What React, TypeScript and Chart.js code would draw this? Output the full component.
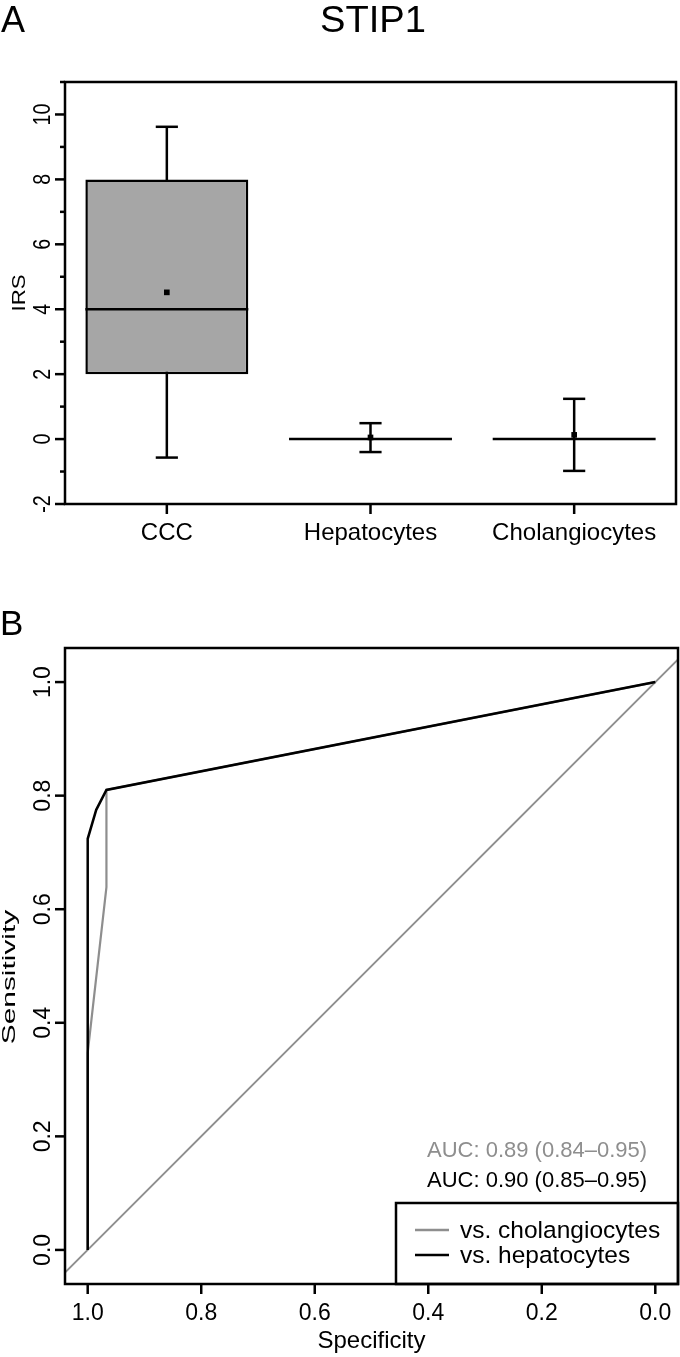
import React, { useEffect, useRef } from 'react';
import { Chart, registerables } from 'chart.js';

Chart.register(...registerables);

// ---------- Panel A data ----------
const categories = ['CCC', 'Hepatocytes', 'Cholangiocytes'];
const boxQ1 = [2, 0, 0];
const boxQ3 = [8, 0, 0];
const medians = [4, 0, 0];
const means = [4.52, 0.05, 0.13];
const errHigh = [9.62, 0.49, 1.24];
const errLow = [-0.57, -0.4, -0.98];
const irsMajorTicks = [-2, 0, 2, 4, 6, 8, 10];
const irsMajorLabels = ['-2', '0', '2', '4', '6', '8', '10'];
const irsMinorTicks = [-1, 1, 3, 5, 7, 9, 11];
const titleA = 'STIP1';
const yLabelA = 'IRS';

// ---------- Panel B data ----------
const diagSpec = [1.04, -0.04];
const diagSens = [-0.04, 1.04];
const cholSpec = [1, 1, 0.967, 0.967, 0];
const cholSens = [0, 0.347, 0.639, 0.81, 1];
const hepSpec = [1, 1, 0.985, 0.967, 0];
const hepSens = [0, 0.724, 0.775, 0.81, 1];
const specTicks = [1, 0.8, 0.6, 0.4, 0.2, 0];
const specLabels = ['1.0', '0.8', '0.6', '0.4', '0.2', '0.0'];
const sensTicks = [0, 0.2, 0.4, 0.6, 0.8, 1];
const sensLabels = ['0.0', '0.2', '0.4', '0.6', '0.8', '1.0'];
const aucChol = 'AUC: 0.89 (0.84\u20130.95)';
const aucHep = 'AUC: 0.90 (0.85\u20130.95)';
const legendLabels = ['vs. cholangiocytes', 'vs. hepatocytes'];

const GRAY = '#8e8e8e';
const BOXFILL = '#a6a6a6';
const FONT = '"Liberation Sans", Arial, Helvetica, sans-serif';
const LW = 2.5;

type TOpts = {
  size: number;
  align?: CanvasTextAlign;
  base?: CanvasTextBaseline;
  rot?: number;
  sx?: number;
  sy?: number;
  color?: string;
};

function txt(ctx: CanvasRenderingContext2D, s: string, x: number, y: number, o: TOpts) {
  ctx.save();
  ctx.translate(x, y);
  if (o.rot) ctx.rotate(o.rot);
  ctx.scale(o.sx ?? 1, o.sy ?? 1);
  ctx.font = `${o.size}px ${FONT}`;
  ctx.fillStyle = o.color ?? '#000';
  ctx.textAlign = o.align ?? 'left';
  ctx.textBaseline = o.base ?? 'alphabetic';
  ctx.fillText(s, 0, 0);
  ctx.restore();
}

function line(ctx: CanvasRenderingContext2D, x1: number, y1: number, x2: number, y2: number) {
  ctx.beginPath();
  ctx.moveTo(x1, y1);
  ctx.lineTo(x2, y2);
  ctx.stroke();
}

const boxPlugin = {
  id: 'boxA',
  beforeDatasetsDraw(chart: any) {
    const ctx = chart.ctx as CanvasRenderingContext2D;
    const y = chart.scales.y;
    const bars = chart.getDatasetMeta(1).data;
    ctx.save();
    ctx.strokeStyle = '#000';
    ctx.lineWidth = LW;
    bars.forEach((b: any, i: number) => {
      const cx = b.x;
      const half = b.width * 0.068;
      const yh = y.getPixelForValue(errHigh[i]);
      const yl = y.getPixelForValue(errLow[i]);
      line(ctx, cx, yh, cx, yl);
      line(ctx, cx - half, yh, cx + half, yh);
      line(ctx, cx - half, yl, cx + half, yl);
    });
    ctx.restore();
  },
  afterDatasetDraw(chart: any, args: any) {
    if (args.index !== 1) return;
    const ctx = chart.ctx as CanvasRenderingContext2D;
    const y = chart.scales.y;
    const bars = chart.getDatasetMeta(1).data;
    ctx.save();
    ctx.strokeStyle = '#000';
    ctx.lineWidth = LW;
    bars.forEach((b: any, i: number) => {
      const ym = y.getPixelForValue(medians[i]);
      line(ctx, b.x - b.width / 2, ym, b.x + b.width / 2, ym);
    });
    ctx.restore();
  },
  afterDraw(chart: any) {
    const ctx = chart.ctx as CanvasRenderingContext2D;
    const { left, right, top, bottom } = chart.chartArea;
    const x = chart.scales.x;
    const y = chart.scales.y;
    ctx.save();
    ctx.strokeStyle = '#000';
    ctx.lineWidth = LW;
    ctx.strokeRect(left, top, right - left, bottom - top);
    irsMajorTicks.forEach((v, i) => {
      const py = y.getPixelForValue(v);
      line(ctx, left - 10, py, left, py);
      txt(ctx, irsMajorLabels[i], 50, py, { size: 24, align: 'center', rot: -Math.PI / 2, sx: 0.82 });
    });
    irsMinorTicks.forEach((v) => {
      const py = y.getPixelForValue(v);
      line(ctx, left - 5, py, left, py);
    });
    categories.forEach((c, i) => {
      const px = x.getPixelForValue(i);
      line(ctx, px, bottom, px, bottom + 10);
      txt(ctx, c, px, 540, { size: 24, align: 'center' });
    });
    txt(ctx, yLabelA, 25, (top + bottom) / 2, { size: 19, align: 'center', rot: -Math.PI / 2, sx: 1.17 });
    txt(ctx, titleA, 373, 32, { size: 36, align: 'center', sx: 1.06 });
    txt(ctx, 'A', 1, 32, { size: 36 });
    ctx.restore();
  },
};

const OFFB = 600;

const rocPlugin = {
  id: 'rocB',
  afterDraw(chart: any) {
    const ctx = chart.ctx as CanvasRenderingContext2D;
    const { left, right, top, bottom } = chart.chartArea;
    const x = chart.scales.x;
    const y = chart.scales.y;
    ctx.save();
    ctx.strokeStyle = '#000';
    ctx.lineWidth = LW;
    // legend box
    const lx = 396, ly = 1203 - OFFB;
    ctx.fillStyle = '#fff';
    ctx.fillRect(lx, ly, right - lx, bottom - ly);
    ctx.strokeRect(lx, ly, right - lx, bottom - ly);
    // plot border
    ctx.strokeRect(left, top, right - left, bottom - top);
    specTicks.forEach((v, i) => {
      const px = x.getPixelForValue(v);
      line(ctx, px, bottom, px, bottom + 10);
      txt(ctx, specLabels[i], px, 1320 - OFFB, { size: 23, align: 'center' });
    });
    sensTicks.forEach((v, i) => {
      const py = y.getPixelForValue(v);
      line(ctx, left - 10, py, left, py);
      txt(ctx, sensLabels[i], 50, py, { size: 23, align: 'center', rot: -Math.PI / 2 });
    });
    txt(ctx, 'Specificity', (left + right) / 2, 1348 - OFFB, { size: 24, align: 'center' });
    txt(ctx, 'Sensitivity', 15, 977 - OFFB, { size: 18, align: 'center', rot: -Math.PI / 2, sx: 1.66 });
    txt(ctx, 'B', 0, 635 - OFFB, { size: 35 });
    txt(ctx, aucChol, 427, 1157 - OFFB, { size: 22, color: GRAY });
    txt(ctx, aucHep, 427, 1187 - OFFB, { size: 22, color: '#000' });
    // legend entries
    const cols = [GRAY, '#000'];
    const lys = [1230, 1255];
    legendLabels.forEach((s, i) => {
      ctx.strokeStyle = cols[i];
      line(ctx, 415, lys[i] - OFFB, 449, lys[i] - OFFB);
      txt(ctx, s, 460, lys[i] + 8 - OFFB, { size: 24.5 });
    });
    ctx.restore();
  },
};

function pts(xs: number[], ys: number[]) {
  return xs.map((v, i) => ({ x: v, y: ys[i] }));
}

export default function App() {
  const refA = useRef<HTMLCanvasElement | null>(null);
  const refB = useRef<HTMLCanvasElement | null>(null);

  useEffect(() => {
    const chartA = new Chart(refA.current as HTMLCanvasElement, {
      type: 'bar',
      data: {
        labels: categories,
        datasets: [
          {
            type: 'line',
            data: means,
            showLine: false,
            pointStyle: 'rect',
            pointRadius: 4,
            pointBackgroundColor: '#000',
            pointBorderWidth: 0,
            borderColor: '#000',
          } as any,
          {
            type: 'bar',
            data: boxQ1.map((q, i) => [q, boxQ3[i]]),
            backgroundColor: BOXFILL,
            borderColor: '#000',
            borderWidth: LW,
            borderSkipped: false,
            barPercentage: 0.8,
            categoryPercentage: 1,
          } as any,
        ],
      },
      options: {
        responsive: false,
        maintainAspectRatio: false,
        animation: false,
        devicePixelRatio: 1,
        layout: { padding: { left: 0, right: 2, top: 82, bottom: 0 } },
        plugins: { legend: { display: false }, tooltip: { enabled: false }, title: { display: false } },
        scales: {
          x: {
            type: 'category',
            offset: true,
            grid: { display: false },
            border: { display: false },
            ticks: { display: false },
            afterFit: (s: any) => { s.height = 96; },
          },
          y: {
            type: 'linear',
            min: -2,
            max: 11,
            grid: { display: false },
            border: { display: false },
            ticks: { display: false },
            afterFit: (s: any) => { s.width = 65; },
          },
        },
      } as any,
      plugins: [boxPlugin],
    });

    const chartB = new Chart(refB.current as HTMLCanvasElement, {
      type: 'scatter',
      data: {
        datasets: [
          {
            data: pts(hepSpec, hepSens),
            showLine: true,
            borderColor: '#000',
            borderWidth: LW,
            pointRadius: 0,
            tension: 0,
          },
          {
            data: pts(cholSpec, cholSens),
            showLine: true,
            borderColor: GRAY,
            borderWidth: 2.2,
            pointRadius: 0,
            tension: 0,
          },
          {
            data: pts(diagSpec, diagSens),
            showLine: true,
            borderColor: GRAY,
            borderWidth: 1.8,
            pointRadius: 0,
            tension: 0,
          },
        ] as any,
      },
      options: {
        responsive: false,
        maintainAspectRatio: false,
        animation: false,
        devicePixelRatio: 1,
        layout: { padding: { left: 0, right: 2, top: 48, bottom: 0 } },
        plugins: { legend: { display: false }, tooltip: { enabled: false } },
        scales: {
          x: {
            type: 'linear',
            reverse: true,
            min: -0.04,
            max: 1.04,
            grid: { display: false },
            border: { display: false },
            ticks: { display: false },
            afterFit: (s: any) => { s.height = 73; },
          },
          y: {
            type: 'linear',
            min: -0.06,
            max: 1.06,
            grid: { display: false },
            border: { display: false },
            ticks: { display: false },
            afterFit: (s: any) => { s.width = 65; },
          },
        },
      } as any,
      plugins: [rocPlugin],
    });

    return () => {
      chartA.destroy();
      chartB.destroy();
    };
  }, []);

  return (
    <div style={{ position: 'absolute', left: 0, top: 0, width: 680, height: 1357, overflow: 'hidden', background: '#fff' }}>
      <canvas ref={refA} width={680} height={600} style={{ position: 'absolute', left: 0, top: 0, width: 680, height: 600 }} />
      <canvas ref={refB} width={680} height={757} style={{ position: 'absolute', left: 0, top: 600, width: 680, height: 757 }} />
    </div>
  );
}
